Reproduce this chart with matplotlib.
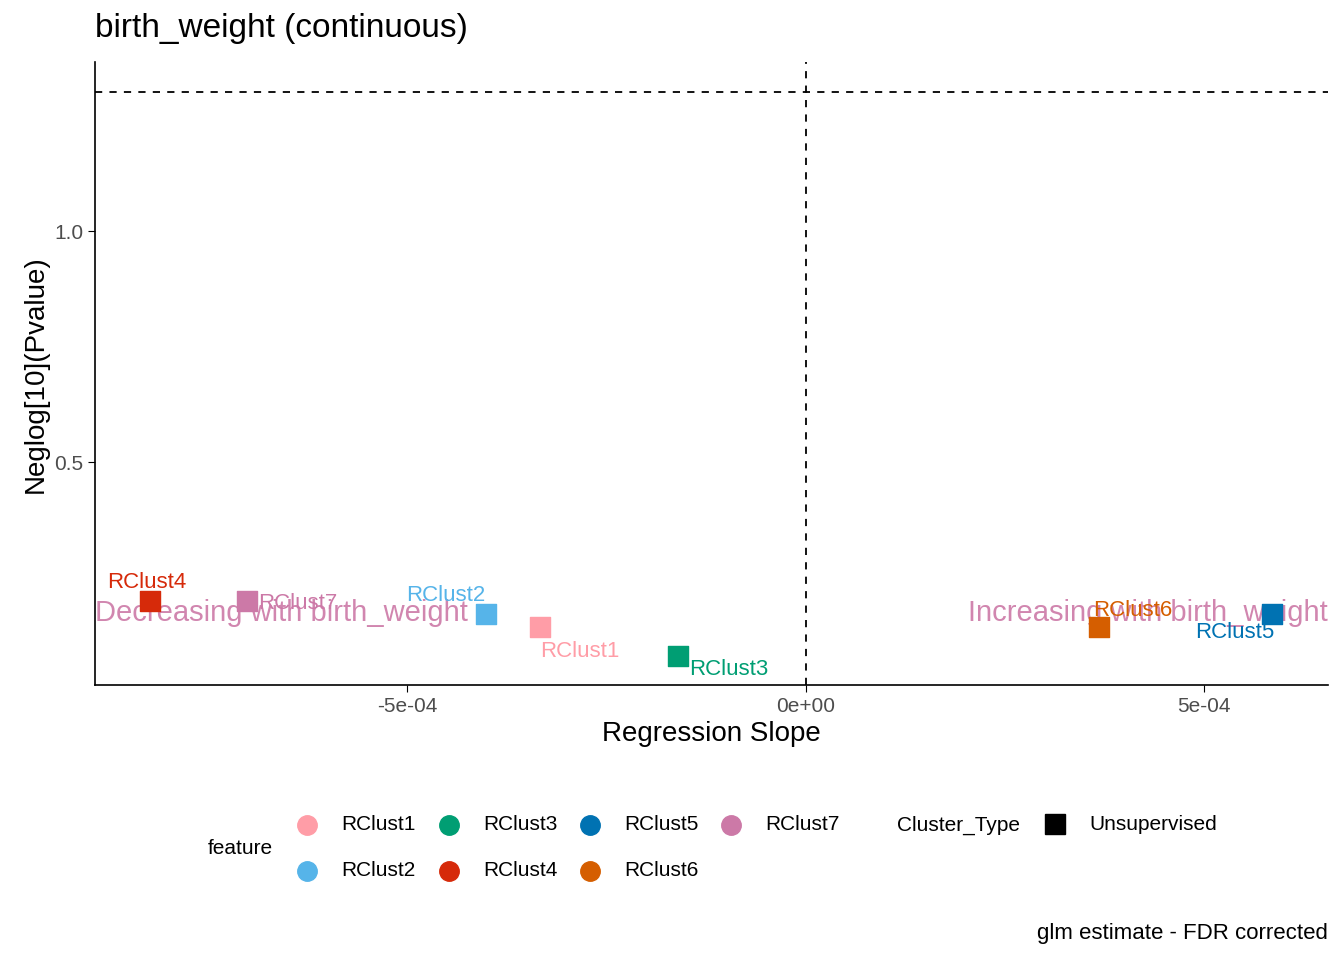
import matplotlib.pyplot as plt
from matplotlib.lines import Line2D

features = ["RClust1", "RClust2", "RClust3", "RClust4", "RClust5", "RClust6", "RClust7"]
slopes = [-3.34e-4, -4.02e-4, -1.61e-4, -8.23e-4, 5.85e-4, 3.68e-4, -7.01e-4]
neglogp = [0.143, 0.171, 0.080, 0.199, 0.171, 0.143, 0.199]
colors = ["#FF9DA7", "#56B4E9", "#009E73", "#D62A0A", "#0072B2", "#D55E00", "#CC79A7"]
# label offsets in points (dx, dy, ha, va)
offsets = {
    "RClust1": (0, -10, "left", "top"),
    "RClust2": (0, 6, "right", "bottom"),
    "RClust3": (8, -2, "left", "top"),
    "RClust4": (-2, 6, "center", "bottom"),
    "RClust5": (2, -6, "right", "top"),
    "RClust6": (-4, 4, "left", "bottom"),
    "RClust7": (8, -2, "left", "center"),
}

plt.rcParams['font.family'] = ['Liberation Sans', 'DejaVu Sans']
fig = plt.figure(figsize=(13.44, 9.6), dpi=100)
ax = fig.add_axes([0.0707, 0.2865, 0.9173, 0.6485])

ax.set_xlim(-8.92e-4, 6.55e-4)
ax.set_ylim(0.017, 1.366)
ax.axhline(1.301, color="black", ls=(0, (4, 4)), lw=1.3)
ax.axvline(0, color="black", ls=(0, (4, 4)), lw=1.3)

ax.text(-8.92e-4, 0.172, "Decreasing with birth_weight", color="#CC79A7", fontsize=21,
        ha="left", va="center", alpha=0.9)
ax.text(6.55e-4, 0.172, "Increasing with birth_weight", color="#CC79A7", fontsize=21,
        ha="right", va="center", alpha=0.9)

for f, x, y, c in zip(features, slopes, neglogp, colors):
    ax.scatter(x, y, marker="s", s=200, color=c, zorder=3)
    dx, dy, ha, va = offsets[f]
    ax.annotate(f, (x, y), xytext=(dx, dy), textcoords="offset points",
                color=c, fontsize=16, ha=ha, va=va)

ax.set_xticks([-5e-4, 0, 5e-4])
ax.set_xticklabels(["-5e-04", "0e+00", "5e-04"])
ax.set_yticks([0.5, 1.0])
ax.set_yticklabels(["0.5", "1.0"])
ax.tick_params(labelsize=15, labelcolor="#4D4D4D", length=5)
for s in ["top", "right"]:
    ax.spines[s].set_visible(False)
ax.spines["left"].set_linewidth(1.2)
ax.spines["bottom"].set_linewidth(1.2)
ax.set_xlabel("Regression Slope", fontsize=20)
ax.set_ylabel("Neglog[10](Pvalue)", fontsize=20)
ax.set_title("birth_weight (continuous)", fontsize=24, loc="left", pad=18)

# legend
fig.text(208 / 1344, 1 - 849 / 960, "feature", fontsize=15, va="center")
pos = {0: (307, 825), 1: (307, 871), 2: (449, 825), 3: (449, 871),
       4: (590, 825), 5: (590, 871), 6: (731, 825)}
for i, f in enumerate(features):
    px, py = pos[i]
    fig.add_artist(Line2D([px / 1344], [1 - py / 960], marker="o", markersize=14,
                          color=colors[i], transform=fig.transFigure))
    fig.text((px + 34) / 1344, 1 - py / 960, f, fontsize=15, va="center")
fig.text(897 / 1344, 1 - 825 / 960, "Cluster_Type", fontsize=15, va="center")
fig.add_artist(Line2D([1055 / 1344], [1 - 824 / 960], marker="s", markersize=14,
                      color="black", transform=fig.transFigure))
fig.text(1089 / 1344, 1 - 825 / 960, "Unsupervised", fontsize=15, va="center")
fig.text(1328 / 1344, 1 - 933 / 960, "glm estimate - FDR corrected", fontsize=16,
         ha="right", va="center")

fig.savefig("out.png")
